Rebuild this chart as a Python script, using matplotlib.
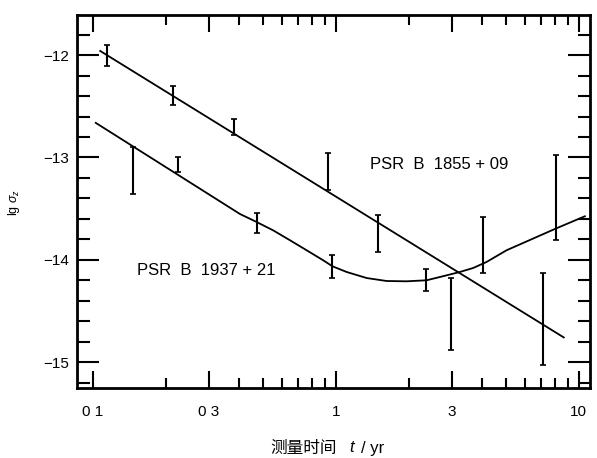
import matplotlib
matplotlib.use("Agg")
import matplotlib.pyplot as plt
from matplotlib.ticker import FixedLocator, MultipleLocator, NullFormatter

plt.rcParams['font.family'] = ['Liberation Sans', 'Noto Sans CJK SC', 'DejaVu Sans']
plt.rcParams['mathtext.fontset'] = 'custom'
plt.rcParams['mathtext.it'] = 'Liberation Sans:italic'
plt.rcParams['mathtext.rm'] = 'Liberation Sans'

# PSR B 1855+09: fitted line vertices and measurements
fit1855_t = [0.107, 1.49, 8.67]
fit1855_y = [-11.96, -13.636, -14.757]
t1855 = [0.1146, 0.214, 0.3815, 0.925, 1.493, 2.99, 7.09]
y1855 = [-12.005, -12.394, -12.70, -13.14, -13.743, -14.53, -14.58]
e1855 = [0.10, 0.095, 0.08, 0.18, 0.18, 0.35, 0.45]

# PSR B 1937+21: fitted curve vertices and measurements
fit1937_t = [0.1026, 0.4027, 0.4687, 0.552, 0.6465, 0.7575, 0.8865, 0.969, 1.107,
             1.338, 1.617, 1.954, 2.361, 2.679, 3.238, 3.673, 4.171, 5.04, 8.04, 10.59]
fit1937_y = [-12.662, -13.552, -13.627, -13.712, -13.808, -13.906, -14.004, -14.063,
             -14.118, -14.177, -14.206, -14.209, -14.199, -14.167, -14.118, -14.079,
             -14.020, -13.906, -13.694, -13.574]
t1937 = [0.1465, 0.2245, 0.472, 0.966, 2.35, 4.02, 8.04]
y1937 = [-13.124, -13.07, -13.64, -14.066, -14.195, -13.855, -13.393]
e1937 = [0.228, 0.07, 0.098, 0.11, 0.11, 0.27, 0.415]

xticks = [0.1, 0.3, 1, 3, 10]
xticklabels = ['0 1', '0 3', '1', '3', '10']
yticks = [-12, -13, -14, -15]
yticklabels = ['\u221212', '\u221213', '\u221214', '\u221215']

fig = plt.figure(figsize=(5.97, 4.58), dpi=100)
ax = fig.add_axes([0.129, 0.153, 0.859, 0.814])

ax.plot(fit1855_t, fit1855_y, color='black', lw=1.3)
ax.plot(fit1937_t, fit1937_y, color='black', lw=1.3)
ax.errorbar(t1855, y1855, yerr=e1855, fmt='none', ecolor='black', elinewidth=1.5,
            capsize=2, capthick=1.2)
ax.errorbar(t1937, y1937, yerr=e1937, fmt='none', ecolor='black', elinewidth=1.5,
            capsize=2, capthick=1.2)

ax.set_xscale('log')
ax.set_xlim(0.0859, 11.1)
ax.set_ylim(-15.25, -11.61)

ax.xaxis.set_major_locator(FixedLocator(xticks))
ax.set_xticklabels(xticklabels)
minors = [m * d for d in [0.1, 1] for m in [2, 4, 5, 6, 7, 8, 9]]
ax.xaxis.set_minor_locator(FixedLocator(minors))
ax.xaxis.set_minor_formatter(NullFormatter())
ax.yaxis.set_major_locator(FixedLocator(yticks))
ax.set_yticklabels(yticklabels)
ax.yaxis.set_minor_locator(MultipleLocator(0.2))

ax.tick_params(axis='both', which='both', direction='in', top=True, right=True,
               labelsize=11, width=1.5)
ax.tick_params(axis='x', which='major', length=12, pad=12)
ax.tick_params(axis='x', which='minor', length=7)
ax.tick_params(axis='y', which='major', length=16, pad=6)
ax.tick_params(axis='y', which='minor', length=9)
for s in ax.spines.values():
    s.set_linewidth(2)

ax.text(0.152, -14.1, 'PSR  B  1937 + 21', fontsize=12, va='center', ha='left')
ax.text(1.38, -13.07, 'PSR  B  1855 + 09', fontsize=12, va='center', ha='left')

fig.text(14 / 597, 1 - 203 / 458, r'lg $\sigma_z$', rotation=90, fontsize=9,
         ha='center', va='center')
ylab = 1 - 448 / 458
fig.text(337 / 597, ylab, '测量时间', fontsize=12, ha='right', va='center',
         family=['Noto Sans CJK SC', 'DejaVu Sans'])
fig.text(349 / 597, ylab, 't', fontsize=12, ha='left', va='center', style='italic')
fig.text(361 / 597, ylab, '/ yr', fontsize=12, ha='left', va='center')

fig.savefig('out.png', dpi=100)
